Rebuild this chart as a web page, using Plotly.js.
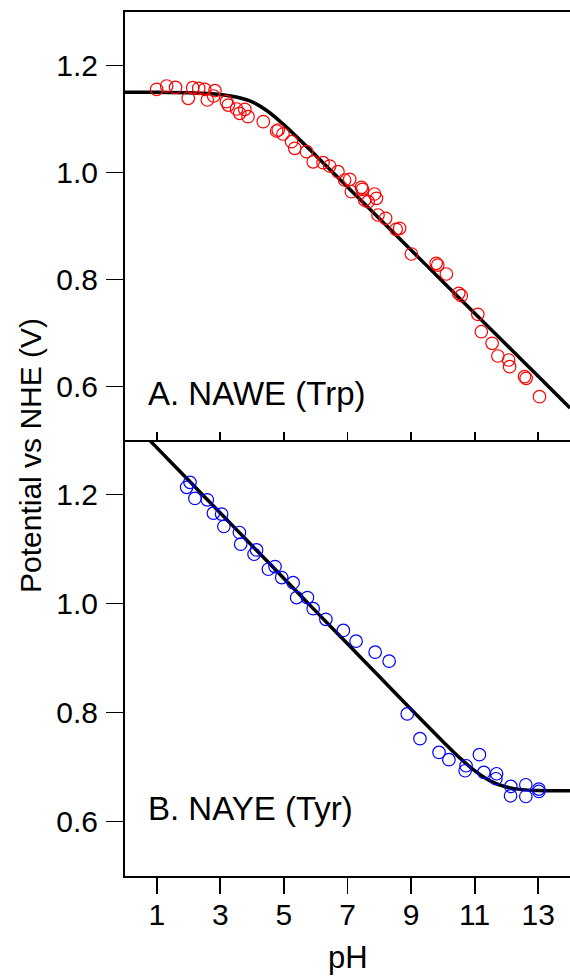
<!DOCTYPE html>
<html>
<head>
<meta charset="utf-8">
<script src="https://cdn.plot.ly/plotly-3.0.1.min.js"></script>
<style>html,body{margin:0;padding:0;background:#fff;}#chart{width:570px;height:977px;}</style>
</head>
<body>
<div id="chart"></div>
<script>
// Panel A: NAWE (Trp) measured points
const trpPH = [0.996, 1.31, 1.59, 1.99, 2.13, 2.32, 2.51, 2.59, 2.83, 2.79, 3.19, 3.25, 3.51, 3.61, 3.77, 3.87, 4.35, 4.77, 4.82,
  4.97, 5.24, 5.34, 5.71, 5.92, 6.23, 6.44, 6.70, 6.91, 7.07, 7.12, 7.44, 7.47, 7.54, 7.65, 7.85, 7.91, 7.96, 8.20, 8.53, 8.64,
  9.01, 9.79, 9.84, 10.11, 10.50, 10.58, 11.10, 11.21, 11.55, 11.73, 12.07, 12.10, 12.57, 12.62, 13.04];
const trpE = [1.1555, 1.1617, 1.159, 1.1387, 1.1585, 1.1574, 1.1555, 1.1355, 1.153, 1.143, 1.1324, 1.126, 1.1187, 1.1106, 1.118, 1.1043, 1.095, 1.0776, 1.0794,
  1.072, 1.0576, 1.0452, 1.0389, 1.020, 1.0183, 1.0121, 1.0015, 0.986, 0.9873, 0.964, 0.9723, 0.9686, 0.9486, 0.9454, 0.9598, 0.9518, 0.9206, 0.9144, 0.8938, 0.8957,
  0.8477, 0.8303, 0.827, 0.8103, 0.7742, 0.7697, 0.735, 0.7024, 0.6807, 0.657, 0.6495, 0.637, 0.6183, 0.6153, 0.5810];
// Panel A fit curve
const trpFitPH = [0, 1, 2, 2.5, 3, 3.5, 4, 4.5, 5, 5.5, 6, 7, 8, 9, 10, 11, 12, 13, 14];
const trpFitE = [1.150, 1.150, 1.149, 1.148, 1.146, 1.141, 1.132, 1.114, 1.089, 1.061, 1.032, 0.973, 0.914, 0.855, 0.796, 0.737, 0.678, 0.619, 0.560];

// Panel B: NAYE (Tyr) measured points
const tyrPH = [2.045, 1.94, 2.20, 2.59, 2.78, 3.04, 3.11, 3.60, 3.64, 4.14, 4.06, 4.51, 4.72, 4.93, 5.29, 5.40, 5.74, 5.92, 6.32, 6.87,
  7.27, 7.87, 8.31, 8.88, 9.28, 9.88, 10.19, 10.73, 10.70, 11.15, 11.29, 11.69, 11.67, 12.14, 12.13, 12.61, 12.61, 13.02, 13.02];
const tyrE = [1.2223, 1.2131, 1.1928, 1.1903, 1.1658, 1.1640, 1.1413, 1.1303, 1.1088, 1.0983, 1.0904, 1.0628, 1.0678, 1.0475, 1.0383, 1.0108, 1.0108, 0.9905, 0.9709, 0.9506,
  0.9309, 0.9107, 0.8942, 0.7974, 0.7520, 0.7268, 0.7134, 0.7023, 0.6931, 0.7226, 0.6900, 0.6876, 0.6784, 0.6643, 0.6472, 0.6674, 0.6459, 0.6595, 0.6551];
// Panel B fit curve
const tyrFitPH = [0, 1, 2, 3, 4, 5, 6, 7, 8, 9, 10, 10.5, 11, 11.5, 12, 12.5, 13, 14];
const tyrFitE = [1.346, 1.286, 1.226, 1.166, 1.106, 1.046, 0.986, 0.926, 0.866, 0.806, 0.747, 0.7185, 0.6932, 0.6741, 0.6632, 0.6585, 0.6568, 0.6562];

const xTicks = [1, 3, 5, 7, 9, 11, 13];
const yTicks = [0.6, 0.8, 1.0, 1.2];
const xTitle = 'pH';
const yTitle = 'Potential vs NHE (V)';
const labelA = 'A. NAWE (Trp)';
const labelB = 'B. NAYE (Tyr)';

const FONT = 'Arial, "Liberation Sans", sans-serif';
const W = 570, H = 977, ML = 125, MR = 0, MT = 12, MB = 101;
const PW = W - ML - MR, PH = H - MT - MB;
const px = x => (x - ML) / PW;
const py = y => (H - MB - y) / PH;
const split = py(440);

const traces = [
  {x: trpFitPH, y: trpFitE, xaxis: 'x2', yaxis: 'y2', mode: 'lines', line: {color: '#000', width: 3.5, shape: 'spline'}, hoverinfo: 'skip'},
  {x: trpPH, y: trpE, xaxis: 'x2', yaxis: 'y2', mode: 'markers', marker: {symbol: 'circle-open', size: 12.5, color: '#ff0000', line: {width: 1.2, color: '#ff0000'}}},
  {x: tyrFitPH, y: tyrFitE, xaxis: 'x', yaxis: 'y', mode: 'lines', line: {color: '#000', width: 3.5, shape: 'spline'}, hoverinfo: 'skip'},
  {x: tyrPH, y: tyrE, xaxis: 'x', yaxis: 'y', mode: 'markers', marker: {symbol: 'circle-open', size: 12.5, color: '#0000ff', line: {width: 1.2, color: '#0000ff'}}}
];

const yCommon = {
  range: [0.5, 1.3], tickvals: yTicks, tickformat: '.1f', ticks: 'outside', ticklen: 17, tickwidth: 1.8,
  tickcolor: '#000', showline: true, linecolor: '#000', linewidth: 2, showgrid: false, zeroline: false,
  tickfont: {family: FONT, size: 30, color: '#000'}, ticklabelstandoff: 2
};

const layout = {
  width: W, height: H,
  margin: {l: ML, r: MR, t: MT, b: MB},
  paper_bgcolor: '#fff', plot_bgcolor: '#fff',
  showlegend: false,
  font: {family: FONT, color: '#000'},
  xaxis: {domain: [0, 1], anchor: 'y', range: [0, 14], tickvals: xTicks, ticks: 'outside', ticklen: 16, tickwidth: 1.8,
    tickcolor: '#000', showline: true, linecolor: '#000', linewidth: 2, showgrid: false, zeroline: false,
    tickfont: {family: FONT, size: 30, color: '#000'}, ticklabelstandoff: -5},
  xaxis3: {overlaying: 'x', anchor: 'y', side: 'top', range: [0, 14], tickvals: xTicks, ticks: 'inside', ticklen: 8, tickwidth: 1.8,
    tickcolor: '#000', showline: false, showgrid: false, zeroline: false, showticklabels: false},
  xaxis2: {domain: [0, 1], anchor: 'y2', range: [0, 14], tickvals: xTicks, ticks: 'inside', ticklen: 8, tickwidth: 1.8,
    tickcolor: '#000', showline: true, mirror: true, linecolor: '#000', linewidth: 2, showgrid: false, zeroline: false, showticklabels: false},
  yaxis: Object.assign({domain: [0, split], anchor: 'x'}, yCommon),
  yaxis2: Object.assign({domain: [split, 1], anchor: 'x2'}, yCommon),
  annotations: [
    {text: labelA, xref: 'paper', yref: 'paper', x: px(146), y: py(393), xanchor: 'left', yanchor: 'middle', showarrow: false, font: {family: FONT, size: 33, color: '#000'}},
    {text: labelB, xref: 'paper', yref: 'paper', x: px(146), y: py(808), xanchor: 'left', yanchor: 'middle', showarrow: false, font: {family: FONT, size: 33, color: '#000'}},
    {text: yTitle, xref: 'paper', yref: 'paper', x: px(31), y: py(456), xanchor: 'center', yanchor: 'middle', textangle: -90, showarrow: false, font: {family: FONT, size: 30, color: '#000'}},
    {text: xTitle, xref: 'paper', yref: 'paper', x: px(347.5), y: py(957), xanchor: 'center', yanchor: 'middle', showarrow: false, font: {family: FONT, size: 31, color: '#000'}}
  ]
};

Plotly.newPlot('chart', traces, layout, {staticPlot: true, displayModeBar: false});
</script>
</body>
</html>
